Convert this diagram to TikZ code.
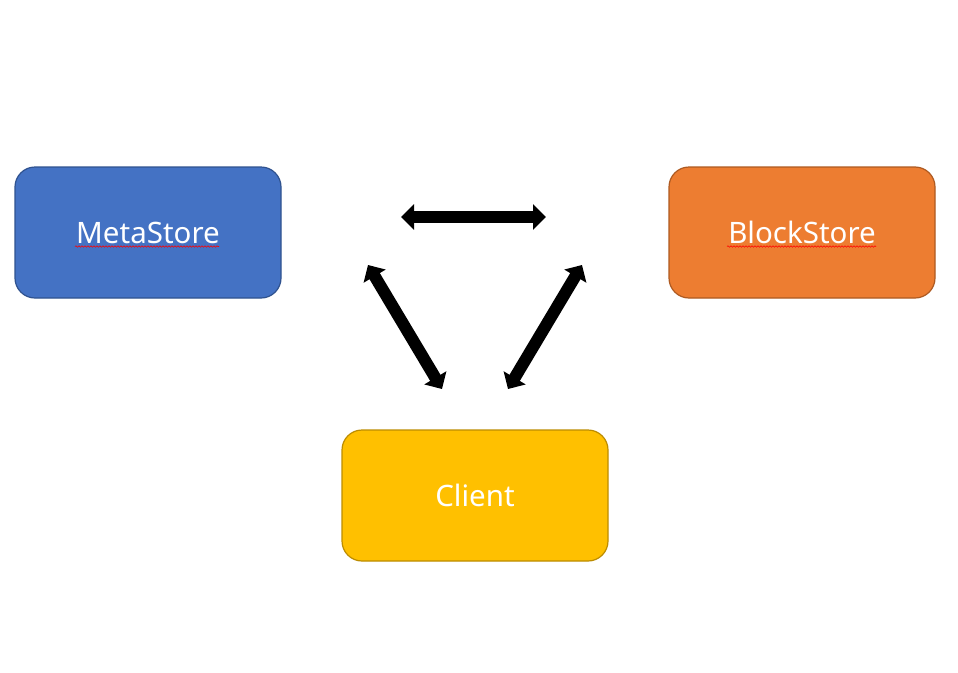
\documentclass[tikz,border=0pt]{standalone}
\usepackage{fontspec}
\setmainfont{Noto Sans}
\usetikzlibrary{arrows.meta,decorations.pathmorphing}
\definecolor{metafill}{HTML}{4472C4}
\definecolor{metaline}{HTML}{2F528F}
\definecolor{blockfill}{HTML}{ED7D31}
\definecolor{blockline}{HTML}{AE5A21}
\definecolor{clientfill}{HTML}{FFC000}
\definecolor{clientline}{HTML}{BC8C00}
\tikzset{
  store/.style={rectangle, rounded corners=20pt, minimum width=266pt,
    minimum height=131pt, line width=1.2pt, text=white,
    font=\fontsize{29.5}{32}\selectfont},
  fatarrow/.style={line width=12pt,
    {Triangle[width=25pt,length=13pt]}-{Triangle[width=25pt,length=13pt]}},
  spellmark/.style={draw=red, line width=0.6pt,
    decorate, decoration={snake, amplitude=0.7pt, segment length=3pt}}
}
\begin{document}
\begin{tikzpicture}[x=1pt,y=-1pt]
  \useasboundingbox (0,0) rectangle (958,672);
  \fill[white] (0,0) rectangle (958,672);

  % the three components
  \node[store, fill=metafill, draw=metaline] (meta) at (148,232.5) {MetaStore};
  \node[store, fill=blockfill, draw=blockline] (block) at (802,232.5) {BlockStore};
  \node[store, fill=clientfill, draw=clientline] (client) at (475,495.5) {Client};

  % spell-check underlines below the two store names
  \draw[spellmark] (75,246.5) -- (219,246.5);
  \draw[spellmark] (727,246.5) -- (876,246.5);

  % free ends of the double-headed arrows
  \coordinate (h1) at (401,217);
  \coordinate (h2) at (546,217);
  \coordinate (l1) at (368,265);
  \coordinate (l2) at (442,389);
  \coordinate (r1) at (582,265);
  \coordinate (r2) at (508,389);

  \draw[fatarrow] (h1) -- (h2);
  \draw[fatarrow] (l1) -- (l2);
  \draw[fatarrow] (r1) -- (r2);
\end{tikzpicture}
\end{document}
